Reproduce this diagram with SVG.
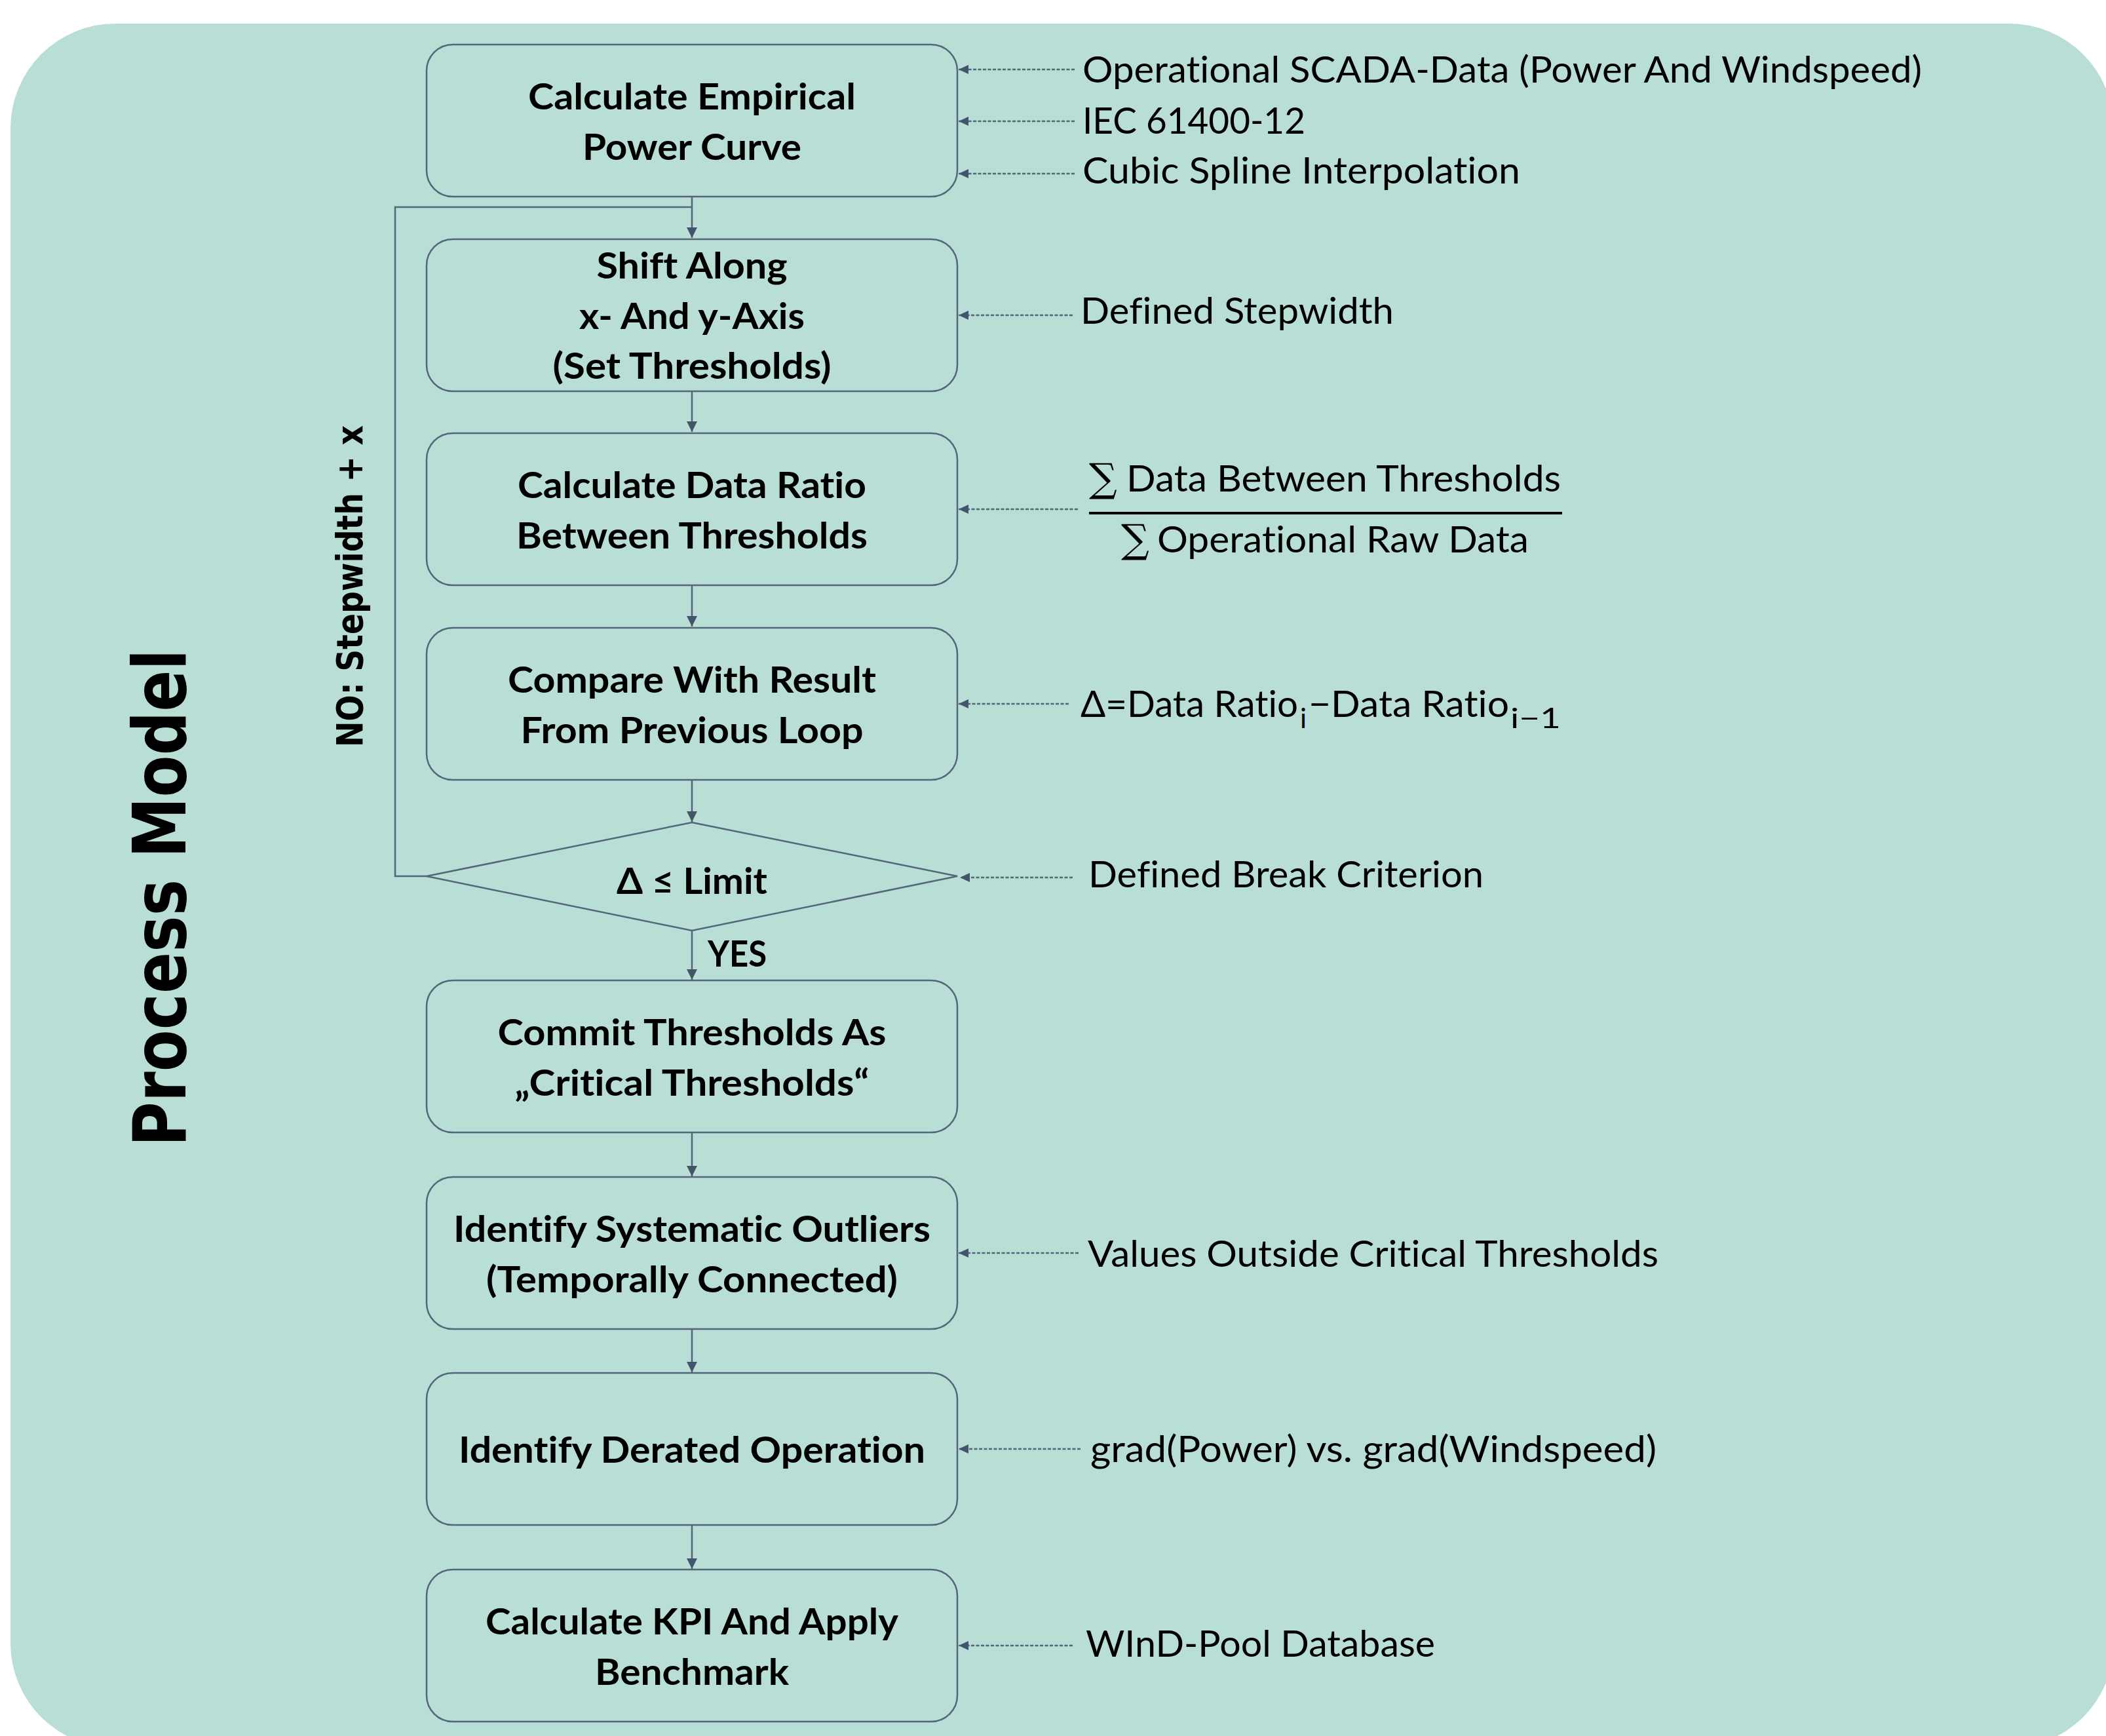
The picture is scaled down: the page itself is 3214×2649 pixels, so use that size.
<svg xmlns="http://www.w3.org/2000/svg" width="3214" height="2649" viewBox="0 0 3214 2649">
<defs>
<style>
.bg{fill:#B9DED6;}
.box{fill:none;stroke:#53667A;stroke-width:2.5;}
.flow{fill:none;stroke:#53667A;stroke-width:2.5;}
.dash{fill:none;stroke:#53667A;stroke-width:2.5;stroke-dasharray:5 2.5;}
text{font-variant-ligatures:none;}
.bt{font-family:Lato,"Open Sans","DejaVu Sans",sans-serif;font-weight:700;font-size:55px;fill:#000;text-anchor:middle;}
.lt{font-family:Lato,"Open Sans","DejaVu Sans",sans-serif;font-weight:400;font-size:56px;fill:#000;}
.sub{font-family:Lato,"Open Sans","DejaVu Sans",sans-serif;font-weight:400;font-size:42px;fill:#000;}
.sig{font-family:"DejaVu Serif","Liberation Serif",serif;font-size:60px;fill:#000;}
.vt{font-family:"DejaVu Sans",Verdana,sans-serif;font-weight:700;fill:#000;text-anchor:middle;}
</style>
<marker id="ah" viewBox="0 0 16 16" refX="16" refY="8" markerWidth="16" markerHeight="16" markerUnits="userSpaceOnUse" orient="auto">
<path d="M0,0 L16,8 L0,16 z" fill="#44546A"/>
</marker>
<marker id="ahs" viewBox="0 0 15 14" refX="15" refY="7" markerWidth="15" markerHeight="14" markerUnits="userSpaceOnUse" orient="auto">
<path d="M0,0 L15,7 L0,14 z" fill="#44546A"/>
</marker>
</defs>
<rect x="0" y="0" width="3214" height="2649" fill="#FFFFFF"/>
<rect class="bg" x="16" y="36" width="3210" height="2631" rx="160" ry="160"/>

<g id="title">
<text class="vt" font-size="112" textLength="759" lengthAdjust="spacingAndGlyphs" transform="translate(283,1370) rotate(-90)">Process Model</text>
</g>

<g id="connectors">
<path class="flow" d="M1056,300 V363" marker-end="url(#ah)"/>
<path class="flow" d="M1056,597 V659" marker-end="url(#ah)"/>
<path class="flow" d="M1056,893 V956" marker-end="url(#ah)"/>
<path class="flow" d="M1056,1190 V1254" marker-end="url(#ah)"/>
<path class="flow" d="M1056,1420 V1495" marker-end="url(#ah)"/>
<path class="flow" d="M1056,1728 V1795" marker-end="url(#ah)"/>
<path class="flow" d="M1056,2028 V2094" marker-end="url(#ah)"/>
<path class="flow" d="M1056,2327 V2394" marker-end="url(#ah)"/>
<path class="flow" d="M651,1337 H603 V316 H1056"/>
<path class="dash" d="M1640,106 H1463" marker-end="url(#ahs)"/>
<path class="dash" d="M1640,185 H1463" marker-end="url(#ahs)"/>
<path class="dash" d="M1640,265 H1463" marker-end="url(#ahs)"/>
<path class="dash" d="M1637,481 H1463" marker-end="url(#ahs)"/>
<path class="dash" d="M1645,777 H1463" marker-end="url(#ahs)"/>
<path class="dash" d="M1631,1074 H1463" marker-end="url(#ahs)"/>
<path class="dash" d="M1637,1339 H1465" marker-end="url(#ahs)"/>
<path class="dash" d="M1646,1912 H1463" marker-end="url(#ahs)"/>
<path class="dash" d="M1649,2211 H1463" marker-end="url(#ahs)"/>
<path class="dash" d="M1637,2511 H1463" marker-end="url(#ahs)"/>
<text class="bt" x="1080" y="1475" style="text-anchor:start" textLength="90" lengthAdjust="spacingAndGlyphs">YES</text>
<text class="vt" font-size="56" textLength="491" lengthAdjust="spacingAndGlyphs" transform="translate(553,894.5) rotate(-90)">NO: Stepwidth + x</text>
</g>

<g id="n1">
<rect class="box" x="651" y="68" width="810" height="232" rx="40"/>
<text class="bt" x="1056" y="167" textLength="500" lengthAdjust="spacingAndGlyphs">Calculate Empirical</text>
<text class="bt" x="1056" y="243.5" textLength="334" lengthAdjust="spacingAndGlyphs">Power Curve</text>
</g>
<g id="n2">
<rect class="box" x="651" y="365" width="810" height="232" rx="40"/>
<text class="bt" x="1056" y="425" textLength="291" lengthAdjust="spacingAndGlyphs">Shift Along</text>
<text class="bt" x="1056" y="501.5" textLength="344" lengthAdjust="spacingAndGlyphs">x- And y-Axis</text>
<text class="bt" x="1056" y="578" textLength="425" lengthAdjust="spacingAndGlyphs">(Set Thresholds)</text>
</g>
<g id="n3">
<rect class="box" x="651" y="661" width="810" height="232" rx="40"/>
<text class="bt" x="1056" y="760" textLength="532" lengthAdjust="spacingAndGlyphs">Calculate Data Ratio</text>
<text class="bt" x="1056" y="836.5" textLength="536" lengthAdjust="spacingAndGlyphs">Between Thresholds</text>
</g>
<g id="n4">
<rect class="box" x="651" y="958" width="810" height="232" rx="40"/>
<text class="bt" x="1056" y="1057" textLength="562" lengthAdjust="spacingAndGlyphs">Compare With Result</text>
<text class="bt" x="1056" y="1133.5" textLength="523" lengthAdjust="spacingAndGlyphs">From Previous Loop</text>
</g>
<g id="d1">
<polygon class="box" points="1056,1255 1461,1337 1056,1420 651,1337"/>
<text class="bt" x="1056" y="1364" textLength="230" lengthAdjust="spacingAndGlyphs">Δ ≤ Limit</text>
</g>
<g id="n5">
<rect class="box" x="651" y="1496" width="810" height="232" rx="40"/>
<text class="bt" x="1056" y="1595" textLength="593" lengthAdjust="spacingAndGlyphs">Commit Thresholds As</text>
<text class="bt" x="1056" y="1671.5" textLength="541" lengthAdjust="spacingAndGlyphs">„Critical Thresholds“</text>
</g>
<g id="n6">
<rect class="box" x="651" y="1796" width="810" height="232" rx="40"/>
<text class="bt" x="1056" y="1895" textLength="728" lengthAdjust="spacingAndGlyphs">Identify Systematic Outliers</text>
<text class="bt" x="1056" y="1971.5" textLength="628" lengthAdjust="spacingAndGlyphs">(Temporally Connected)</text>
</g>
<g id="n7">
<rect class="box" x="651" y="2095" width="810" height="232" rx="40"/>
<text class="bt" x="1056" y="2232" textLength="712" lengthAdjust="spacingAndGlyphs">Identify Derated Operation</text>
</g>
<g id="n8">
<rect class="box" x="651" y="2395" width="810" height="232" rx="40"/>
<text class="bt" x="1056" y="2494" textLength="630" lengthAdjust="spacingAndGlyphs">Calculate KPI And Apply</text>
<text class="bt" x="1056" y="2570.5" textLength="296" lengthAdjust="spacingAndGlyphs">Benchmark</text>
</g>

<g id="l1"><text class="lt" x="1652" y="126" textLength="1281" lengthAdjust="spacingAndGlyphs">Operational SCADA-Data (Power And Windspeed)</text></g>
<g id="l2"><text class="lt" x="1652" y="204" textLength="340" lengthAdjust="spacingAndGlyphs">IEC 61400-12</text></g>
<g id="l3"><text class="lt" x="1652" y="280" textLength="668" lengthAdjust="spacingAndGlyphs">Cubic Spline Interpolation</text></g>
<g id="l4"><text class="lt" x="1649" y="494" textLength="478" lengthAdjust="spacingAndGlyphs">Defined Stepwidth</text></g>
<g id="l5">
<text class="sig" x="1662" y="750">∑</text>
<text class="lt" x="1719" y="750" textLength="663" lengthAdjust="spacingAndGlyphs">Data Between Thresholds</text>
<line x1="1662" y1="783" x2="2384" y2="783" stroke="#000" stroke-width="4"/>
<text class="sig" x="1711" y="843">∑</text>
<text class="lt" x="1766" y="843" textLength="567" lengthAdjust="spacingAndGlyphs">Operational Raw Data</text>
</g>
<g id="l6">
<text class="lt" x="1649" y="1094" textLength="332" lengthAdjust="spacingAndGlyphs">Δ=Data Ratio</text>
<text class="sub" x="1984" y="1111">i</text>
<text class="lt" x="1997" y="1094" textLength="306" lengthAdjust="spacingAndGlyphs">−Data Ratio</text>
<text class="sub" x="2305" y="1111" textLength="77" lengthAdjust="spacingAndGlyphs">i−1</text>
</g>
<g id="l7"><text class="lt" x="1661" y="1354" textLength="603" lengthAdjust="spacingAndGlyphs">Defined Break Criterion</text></g>
<g id="l8"><text class="lt" x="1660" y="1933" textLength="871" lengthAdjust="spacingAndGlyphs">Values Outside Critical Thresholds</text></g>
<g id="l9"><text class="lt" x="1664" y="2231" textLength="864" lengthAdjust="spacingAndGlyphs">grad(Power) vs. grad(Windspeed)</text></g>
<g id="l10"><text class="lt" x="1657" y="2528" textLength="533" lengthAdjust="spacingAndGlyphs">WInD-Pool Database</text></g>
</svg>
